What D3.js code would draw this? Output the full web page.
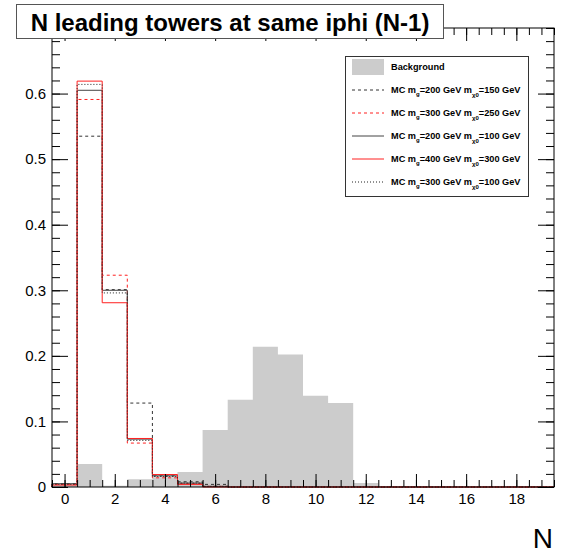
<!DOCTYPE html>
<html>
<head>
<meta charset="utf-8">
<script src="https://cdn.jsdelivr.net/npm/d3@7"></script>
<style>
  body { margin: 0; background: #fff; }
  text { font-family: 'Liberation Sans', Arial, sans-serif; }
</style>
</head>
<body>
<div id="chart"></div>
<script>
// bin centres 0..19 (unit width)
let bins = d3.range(0, 20)

let background = [0.004, 0.035, 0.002, 0.012, 0.015, 0.023, 0.087, 0.133, 0.214, 0.202, 0.139, 0.128, 0.006, 0, 0, 0, 0, 0, 0, 0]
let mg200mx150 = [0.005, 0.535, 0.301, 0.128, 0.017, 0.008, 0.004, 0, 0, 0, 0, 0, 0, 0, 0, 0, 0, 0, 0, 0]
let mg300mx250 = [0.004, 0.591, 0.323, 0.067, 0.014, 0.005, 0.001, 0, 0, 0, 0, 0, 0, 0, 0, 0, 0, 0, 0, 0]
let mg200mx100 = [0.005, 0.605, 0.300, 0.073, 0.017, 0.006, 0.001, 0, 0, 0, 0, 0, 0, 0, 0, 0, 0, 0, 0, 0]
let mg400mx300 = [0.003, 0.619, 0.281, 0.074, 0.019, 0.004, 0, 0, 0, 0, 0, 0, 0, 0, 0, 0, 0, 0, 0, 0]
let mg300mx100 = [0.004, 0.614, 0.296, 0.071, 0.016, 0.006, 0.001, 0, 0, 0, 0, 0, 0, 0, 0, 0, 0, 0, 0, 0]

let yTicks = [0, 0.1, 0.2, 0.3, 0.4, 0.5, 0.6]
let xTicks = [0, 2, 4, 6, 8, 10, 12, 14, 16, 18]

let series = [
  { mg: '200', mx: '150', values: mg200mx150, color: '#333', dash: '3,3' },
  { mg: '300', mx: '250', values: mg300mx250, color: '#ff2020', dash: '3,3' },
  { mg: '200', mx: '100', values: mg200mx100, color: '#444', dash: null },
  { mg: '400', mx: '300', values: mg400mx300, color: '#ff2020', dash: null },
  { mg: '300', mx: '100', values: mg300mx100, color: '#222', dash: '1,2' }
]

let width = 572
let height = 554

let svg = d3.select('#chart')
  .append('svg')
  .attr('width', width)
  .attr('height', height)

let xPositionScale = d3.scaleLinear().domain([-0.5, 19.5]).range([52, 554])
let yPositionScale = d3.scaleLinear().domain([0, 0.7]).range([487, 28])

// left edges of each bin, plus closing point at the right edge
function stepPoints(values) {
  let pts = bins.map((b, i) => ({ x: b - 0.5, v: values[i] }))
  pts.push({ x: 19.5, v: values[values.length - 1] })
  return pts
}

// background histogram, filled
let bgArea = d3.area()
  .curve(d3.curveStepAfter)
  .x(d => xPositionScale(d.x))
  .y0(yPositionScale(0))
  .y1(d => yPositionScale(d.v))

svg.append('path')
  .datum(stepPoints(background))
  .attr('d', bgArea)
  .attr('fill', '#cccccc')

// signal histograms, outlines (start from the baseline like ROOT does)
let stepLine = d3.line()
  .curve(d3.curveStepAfter)
  .x(d => xPositionScale(d.x))
  .y(d => yPositionScale(d.v))

series.forEach(s => {
  let pts = [{ x: -0.5, v: 0 }].concat(stepPoints(s.values))
  svg.append('path')
    .datum(pts)
    .attr('d', stepLine)
    .attr('fill', 'none')
    .attr('stroke', s.color)
    .attr('stroke-width', 1)
    .attr('stroke-dasharray', s.dash)
})

// axes with ticks pointing inward
let yMinor = d3.range(0, 0.70001, 0.02)
let xMinor = d3.range(-0.5, 19.5001, 0.5)

svg.append('g')
  .attr('class', 'axis y-axis')
  .attr('transform', 'translate(' + xPositionScale(-0.5) + ',0)')
  .call(d3.axisLeft(yPositionScale).tickValues(yTicks).tickSizeInner(-16).tickSizeOuter(0).tickPadding(6)
    .tickFormat(d => d === 0 ? '0' : d3.format('.1f')(d)))

svg.append('g')
  .attr('transform', 'translate(' + xPositionScale(-0.5) + ',0)')
  .call(d3.axisLeft(yPositionScale).tickValues(yMinor).tickSizeInner(-8).tickSizeOuter(0).tickFormat(''))

svg.append('g')
  .attr('transform', 'translate(' + xPositionScale(19.5) + ',0)')
  .call(d3.axisRight(yPositionScale).tickValues(yTicks).tickSizeInner(-16).tickSizeOuter(0).tickFormat(''))

svg.append('g')
  .attr('transform', 'translate(' + xPositionScale(19.5) + ',0)')
  .call(d3.axisRight(yPositionScale).tickValues(yMinor).tickSizeInner(-8).tickSizeOuter(0).tickFormat(''))

svg.append('g')
  .attr('class', 'axis x-axis')
  .attr('transform', 'translate(0,' + yPositionScale(0) + ')')
  .call(d3.axisBottom(xPositionScale).tickValues(xTicks).tickSizeInner(-13).tickSizeOuter(0).tickPadding(6))

svg.append('g')
  .attr('transform', 'translate(0,' + yPositionScale(0) + ')')
  .call(d3.axisBottom(xPositionScale).tickValues(xMinor).tickSizeInner(-7).tickSizeOuter(0).tickFormat(''))

svg.append('g')
  .attr('transform', 'translate(0,' + yPositionScale(0.7) + ')')
  .call(d3.axisTop(xPositionScale).tickValues(xTicks).tickSizeInner(-13).tickSizeOuter(0).tickFormat(''))

svg.append('g')
  .attr('transform', 'translate(0,' + yPositionScale(0.7) + ')')
  .call(d3.axisTop(xPositionScale).tickValues(xMinor).tickSizeInner(-7).tickSizeOuter(0).tickFormat(''))

svg.selectAll('.domain').remove()
svg.selectAll('.tick line').attr('stroke', '#000').attr('stroke-width', 1)
svg.selectAll('.tick text')
  .attr('font-family', "'Liberation Sans', Arial, sans-serif")
  .attr('font-size', 15)
  .attr('fill', '#000')

// frame
svg.append('rect')
  .attr('x', xPositionScale(-0.5))
  .attr('y', yPositionScale(0.7))
  .attr('width', xPositionScale(19.5) - xPositionScale(-0.5))
  .attr('height', yPositionScale(0) - yPositionScale(0.7))
  .attr('fill', 'none')
  .attr('stroke', '#000')
  .attr('stroke-width', 1)

// axis title
svg.append('text')
  .attr('x', 553)
  .attr('y', 548)
  .attr('text-anchor', 'end')
  .attr('font-size', 28)
  .text('N')

// title box
svg.append('rect')
  .attr('x', 16.5)
  .attr('y', 4.5)
  .attr('width', 427)
  .attr('height', 34)
  .attr('fill', '#fff')
  .attr('stroke', '#555')

svg.append('text')
  .attr('x', 230)
  .attr('y', 31)
  .attr('text-anchor', 'middle')
  .attr('font-size', 24)
  .attr('font-weight', 'bold')
  .text('N leading towers at same iphi (N-1)')

// legend
let legend = svg.append('g').attr('transform', 'translate(345,56)')

legend.append('rect')
  .attr('x', 0.5)
  .attr('y', 0.5)
  .attr('width', 183)
  .attr('height', 140)
  .attr('fill', '#fff')
  .attr('stroke', '#333')

legend.append('rect')
  .attr('x', 7)
  .attr('y', 3)
  .attr('width', 32)
  .attr('height', 16)
  .attr('fill', '#cccccc')

legend.append('text')
  .attr('x', 46)
  .attr('y', 14)
  .attr('font-size', 9.2)
  .attr('font-weight', 'bold')
  .text('Background')

series.forEach((s, i) => {
  let yy = 34 + i * 23
  legend.append('line')
    .attr('x1', 7)
    .attr('x2', 39)
    .attr('y1', yy)
    .attr('y2', yy)
    .attr('stroke', s.color)
    .attr('stroke-dasharray', s.dash)

  let t = legend.append('text')
    .attr('x', 46)
    .attr('y', yy + 3)
    .attr('font-size', 9.2)
    .attr('font-weight', 'bold')
  t.append('tspan').text('MC m')
  t.append('tspan').attr('font-size', 6).attr('dy', 3).text('g')
  t.append('tspan').attr('dy', -3).text('=' + s.mg + ' GeV m')
  t.append('tspan').attr('font-size', 6).attr('dy', 4).text('χ0')
  t.append('tspan').attr('dy', -4).text('=' + s.mx + ' GeV')
})
</script>
</body>
</html>
